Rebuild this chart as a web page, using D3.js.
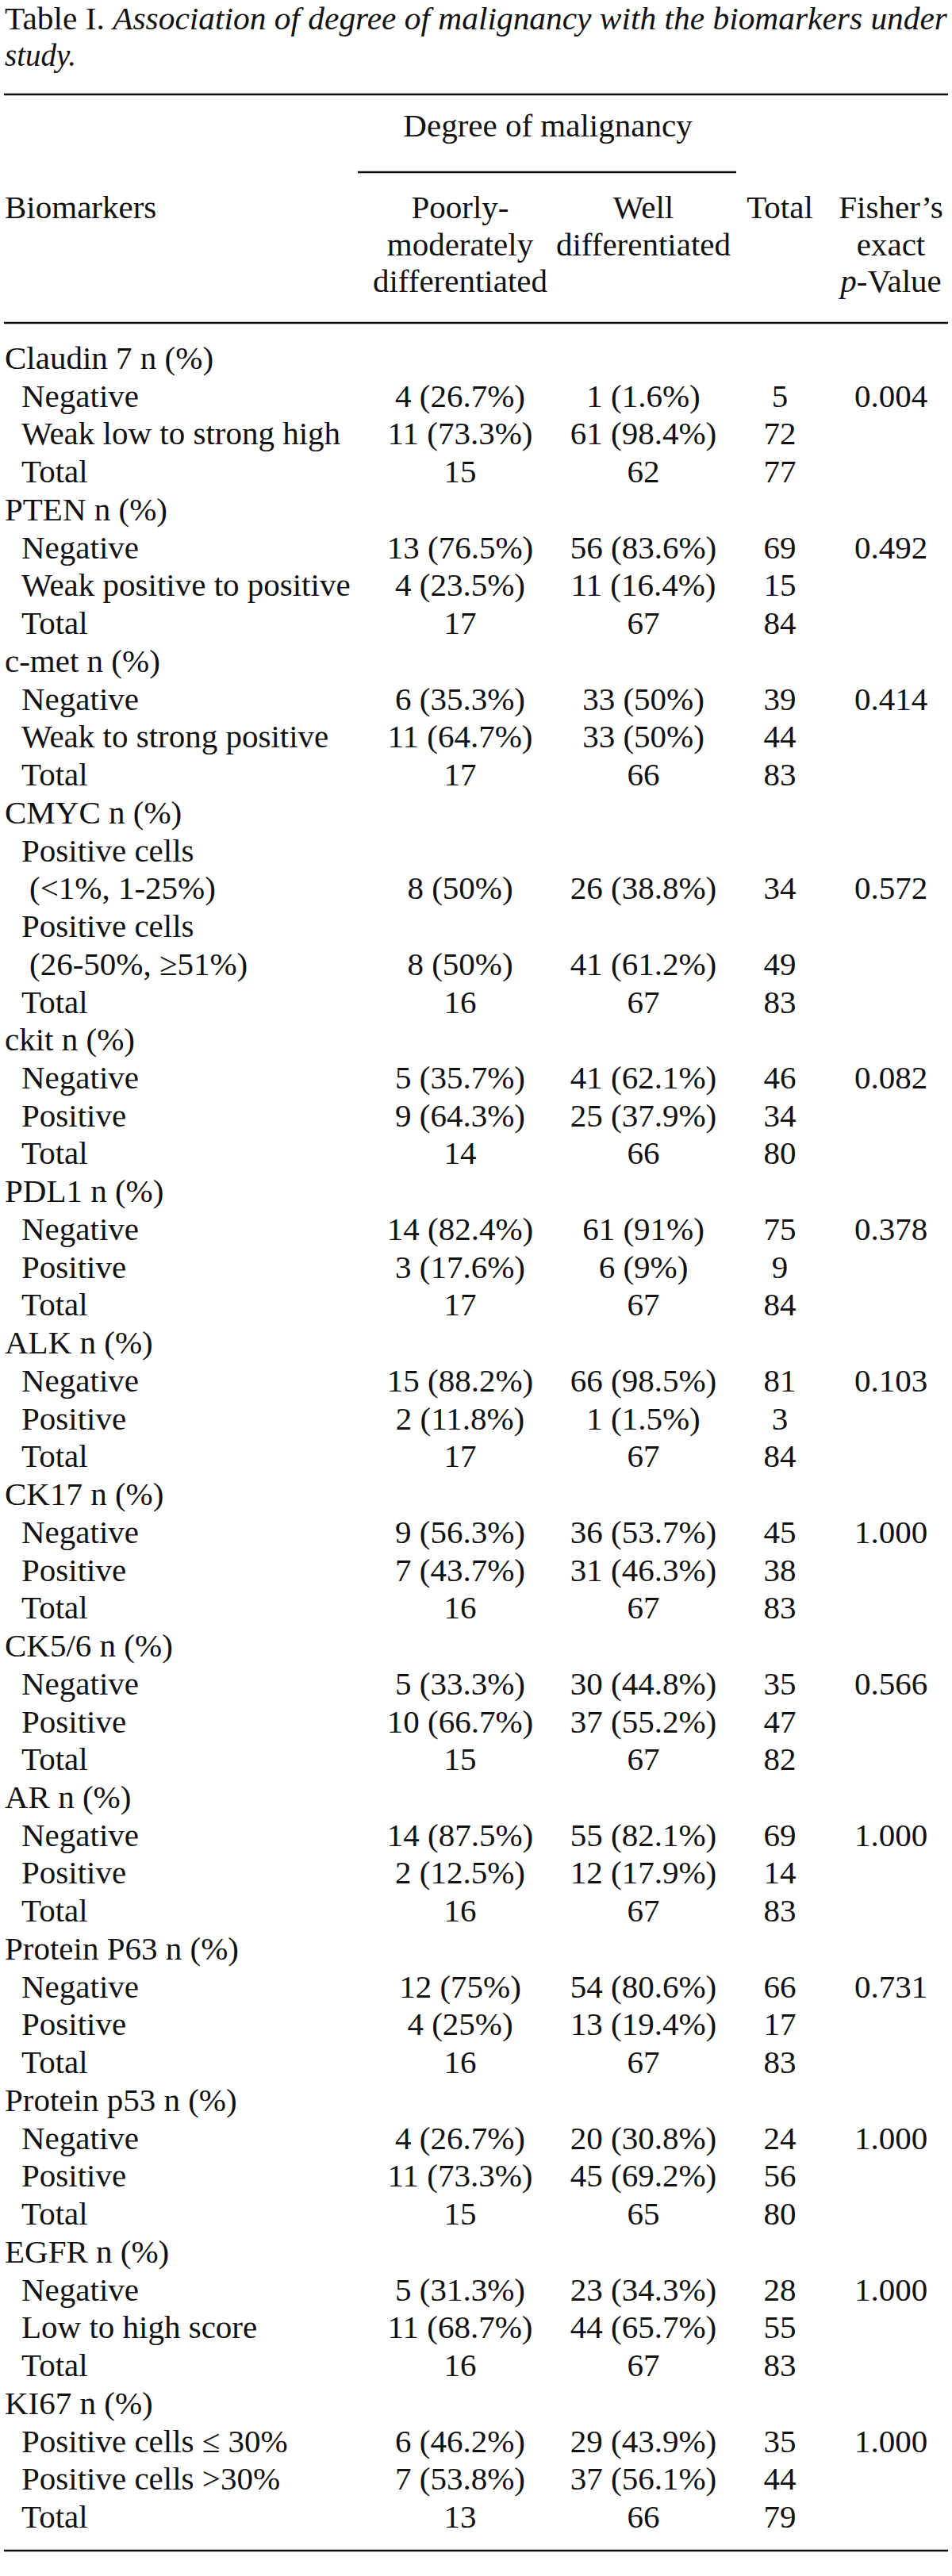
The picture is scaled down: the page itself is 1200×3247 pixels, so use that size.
<!DOCTYPE html>
<html>
<head>
<meta charset="utf-8">
<script src="https://cdn.jsdelivr.net/npm/d3@7"></script>
<style>
  html, body { margin: 0; padding: 0; background: #fff; }
  svg { display: block; }
  text { font-family: "Liberation Serif", "Times New Roman", serif; fill: #111; }
</style>
</head>
<body>
<svg id="chart" width="1200" height="3247"></svg>
<script>
// ---------------- DATA ----------------
const titleLead = "Table I. ";
const titleItalic = ["Association of degree of malignancy with the biomarkers under", "study."];
const columnHeaders = [
  ["Poorly-", "moderately", "differentiated"],
  ["Well", "differentiated"],
  ["Total"],
  ["Fisher\u2019s", "exact", "p-Value"]
];
const spanHeader = "Degree of malignancy";
const stubHeader = "Biomarkers";

const biomarkers = ["Claudin 7 n (%)", "PTEN n (%)", "c-met n (%)", "CMYC n (%)", "ckit n (%)",
  "PDL1 n (%)", "ALK n (%)", "CK17 n (%)", "CK5/6 n (%)", "AR n (%)", "Protein P63 n (%)",
  "Protein p53 n (%)", "EGFR n (%)", "KI67 n (%)"];

const categories = [
  ["Negative", "Weak low to strong high", "Total"],
  ["Negative", "Weak positive to positive", "Total"],
  ["Negative", "Weak to strong positive", "Total"],
  [["Positive cells", "(<1%, 1-25%)"], ["Positive cells", "(26-50%, \u226551%)"], "Total"],
  ["Negative", "Positive", "Total"],
  ["Negative", "Positive", "Total"],
  ["Negative", "Positive", "Total"],
  ["Negative", "Positive", "Total"],
  ["Negative", "Positive", "Total"],
  ["Negative", "Positive", "Total"],
  ["Negative", "Positive", "Total"],
  ["Negative", "Positive", "Total"],
  ["Negative", "Low to high score", "Total"],
  ["Positive cells \u2264 30%", "Positive cells >30%", "Total"]
];

// counts: [first category, second category, total]
const poorlyCounts = [[4,11,15],[13,4,17],[6,11,17],[8,8,16],[5,9,14],[14,3,17],[15,2,17],
  [9,7,16],[5,10,15],[14,2,16],[12,4,16],[4,11,15],[5,11,16],[6,7,13]];
const poorlyPct = [[26.7,73.3],[76.5,23.5],[35.3,64.7],[50,50],[35.7,64.3],[82.4,17.6],[88.2,11.8],
  [56.3,43.7],[33.3,66.7],[87.5,12.5],[75,25],[26.7,73.3],[31.3,68.7],[46.2,53.8]];
const wellCounts = [[1,61,62],[56,11,67],[33,33,66],[26,41,67],[41,25,66],[61,6,67],[66,1,67],
  [36,31,67],[30,37,67],[55,12,67],[54,13,67],[20,45,65],[23,44,67],[29,37,66]];
const wellPct = [[1.6,98.4],[83.6,16.4],[50,50],[38.8,61.2],[62.1,37.9],[91,9],[98.5,1.5],
  [53.7,46.3],[44.8,55.2],[82.1,17.9],[80.6,19.4],[30.8,69.2],[34.3,65.7],[43.9,56.1]];
const rowTotals = [[5,72,77],[69,15,84],[39,44,83],[34,49,83],[46,34,80],[75,9,84],[81,3,84],
  [45,38,83],[35,47,82],[69,14,83],[66,17,83],[24,56,80],[28,55,83],[35,44,79]];
const fisherP = [0.004,0.492,0.414,0.572,0.082,0.378,0.103,1.000,0.566,1.000,0.731,1.000,1.000,1.000];

// ---------------- LAYOUT ----------------
const W = 1200, H = 3247;
const FS = 41, TFS = 39;
const svg = d3.select("#chart");
svg.append("rect").attr("width", W).attr("height", H).attr("fill", "#fff");

const colX = d3.scaleOrdinal().domain(["poorly","well","total","p"]).range([580, 811, 983, 1123]);
const xLeft = 6, xIndent = 27, xIndent2 = 37, xRight = 1194;

// Build row list
const rows = [];
biomarkers.forEach((b, gi) => {
  rows.push({type: "head", label: b});
  categories[gi].forEach((c, ci) => {
    const cells = {
      poorly: ci < 2 ? `${poorlyCounts[gi][ci]} (${poorlyPct[gi][ci]}%)` : `${poorlyCounts[gi][ci]}`,
      well: ci < 2 ? `${wellCounts[gi][ci]} (${wellPct[gi][ci]}%)` : `${wellCounts[gi][ci]}`,
      total: `${rowTotals[gi][ci]}`,
      p: ci === 0 ? d3.format(".3f")(fisherP[gi]) : ""
    };
    if (Array.isArray(c)) {
      rows.push({type: "sub", label: c[0]});
      rows.push({type: "sub2", label: c[1], cells});
    } else {
      rows.push({type: "sub", label: c, cells});
    }
  });
});

const y = d3.scaleLinear().domain([0, rows.length - 1]).range([465, 3186]);

// Title
const title = svg.append("g");
const t1 = title.append("text").attr("x", xLeft).attr("y", 37).attr("font-size", TFS);
t1.append("tspan").text(titleLead);
t1.append("tspan").attr("font-style", "italic").text(titleItalic[0]);
const tl = t1.node().getComputedTextLength();
const target = 1194 - xLeft;
if (Math.abs(tl - target) > 2) t1.attr("textLength", target).attr("lengthAdjust", "spacingAndGlyphs");
title.append("text").attr("x", xLeft).attr("y", 83).attr("font-size", TFS)
  .attr("font-style", "italic").text(titleItalic[1]);

// Rules
const rule = (x1, x2, yy) => svg.append("line").attr("x1", x1).attr("x2", x2)
  .attr("y1", yy).attr("y2", yy).attr("stroke", "#111").attr("stroke-width", 2.6);
rule(xLeft - 1, xRight + 1, 119);
rule(451, 928, 217);
rule(xLeft - 1, xRight + 1, 407);
rule(xLeft - 1, xRight + 1, 3215);

// Headers
svg.append("text").attr("x", (colX("poorly") + colX("well")) / 2 - 5).attr("y", 172)
  .attr("font-size", FS).attr("text-anchor", "middle").text(spanHeader);
svg.append("text").attr("x", xLeft).attr("y", 275).attr("font-size", FS).text(stubHeader);
const hy = [275, 322, 368];
["poorly","well","total","p"].forEach((k, i) => {
  columnHeaders[i].forEach((line, li) => {
    const t = svg.append("text").attr("x", colX(k)).attr("y", hy[li])
      .attr("font-size", FS).attr("text-anchor", "middle");
    if (line.startsWith("p-")) {
      t.append("tspan").attr("font-style", "italic").text("p");
      t.append("tspan").text(line.slice(1));
    } else t.text(line);
  });
});

// Body rows
const body = svg.append("g");
rows.forEach((r, i) => {
  const yy = y(i);
  const x = r.type === "head" ? xLeft : (r.type === "sub2" ? xIndent2 : xIndent);
  body.append("text").attr("x", x).attr("y", yy).attr("font-size", FS).text(r.label);
  if (r.cells) {
    ["poorly","well","total","p"].forEach(k => {
      if (r.cells[k]) body.append("text").attr("x", colX(k)).attr("y", yy)
        .attr("font-size", FS).attr("text-anchor", "middle").text(r.cells[k]);
    });
  }
});
</script>
</body>
</html>
